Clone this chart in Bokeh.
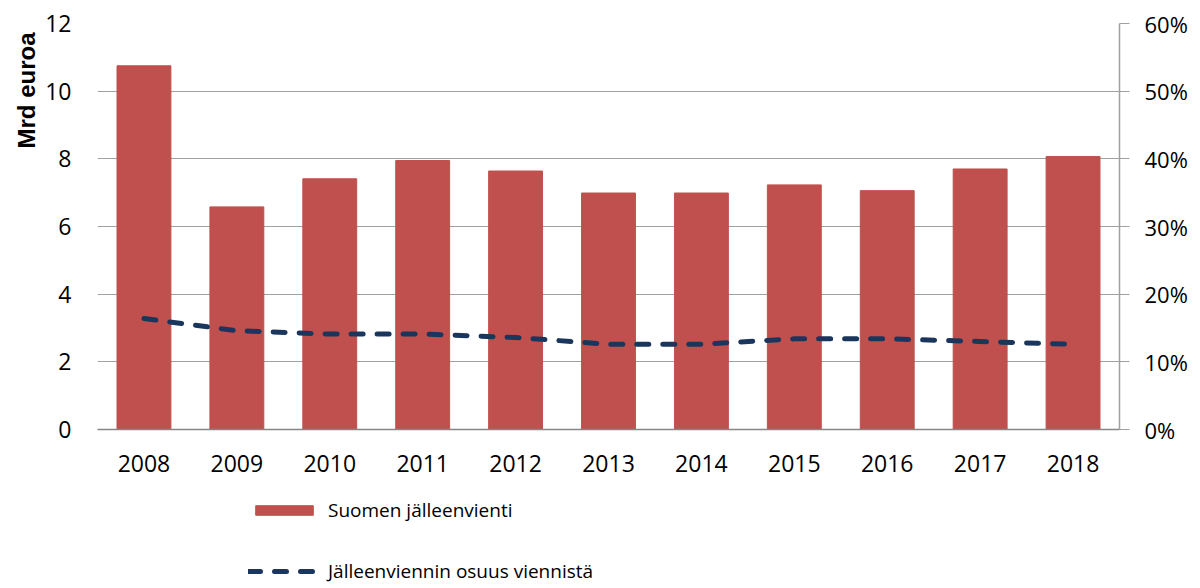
from bokeh.plotting import figure
from bokeh.layouts import column
from bokeh.models import (Range1d, LinearAxis, FixedTicker, NumeralTickFormatter,
                          Title, Legend, LegendItem, ColumnDataSource)
from bokeh.embed import file_html
from bokeh.resources import INLINE

years = ["2008", "2009", "2010", "2011", "2012", "2013", "2014", "2015", "2016", "2017", "2018"]
reexport_bn = [10.75, 6.58, 7.41, 7.95, 7.64, 6.99, 6.99, 7.23, 7.06, 7.70, 8.07]
share_of_exports = [0.164, 0.146, 0.141, 0.141, 0.136, 0.126, 0.126, 0.134, 0.134, 0.130, 0.126]
left_ticks = [0, 2, 4, 6, 8, 10, 12]
right_ticks = [0, 0.1, 0.2, 0.3, 0.4, 0.5, 0.6]
legend_labels = ["Suomen jälleenvienti", "Jälleenviennin osuus viennistä"]

xpos = [i + 0.5 for i in range(len(years))]
src = ColumnDataSource(dict(x=xpos, v=reexport_bn, s=share_of_exports))

FONT = "Open Sans"
GRID = "#A0A0A0"
BAR = "#C0504D"
LINE = "#1B365D"

p = figure(width=1198, height=484, output_backend="svg", toolbar_location=None,
           x_range=Range1d(0, len(years)), y_range=Range1d(0, 12),
           min_border_left=97, min_border_right=79, min_border_top=23, min_border_bottom=55)
p.outline_line_color = None
p.background_fill_color = "white"

p.extra_y_ranges = {"pct": Range1d(0, 0.6)}

# grid
p.xgrid.visible = False
p.ygrid.grid_line_color = GRID
p.ygrid.grid_line_width = 1.2
p.ygrid.ticker = FixedTicker(ticks=left_ticks)

# left axis
ya = p.yaxis[0]
ya.ticker = FixedTicker(ticks=left_ticks)
ya.axis_line_color = None
ya.major_tick_line_color = None
ya.major_tick_out = 0
ya.major_tick_in = 0
ya.minor_tick_line_color = None
ya.major_label_standoff = 26
ya.major_label_text_font = FONT
ya.major_label_text_font_size = "23px"
ya.major_label_text_color = "#000000"

# bottom axis
xa = p.xaxis[0]
xa.ticker = FixedTicker(ticks=xpos)
xa.major_label_overrides = {x: y for x, y in zip(xpos, years)}
xa.axis_line_color = "#868686"
xa.axis_line_width = 1.5
xa.major_tick_line_color = None
xa.major_tick_out = 0
xa.major_tick_in = 0
xa.minor_tick_line_color = None
xa.major_label_standoff = 25
xa.major_label_text_font = FONT
xa.major_label_text_font_size = "23px"
xa.major_label_text_color = "#000000"

# right axis
ra = LinearAxis(y_range_name="pct", ticker=FixedTicker(ticks=right_ticks),
                formatter=NumeralTickFormatter(format="0%"))
ra.axis_line_color = GRID
ra.axis_line_width = 1.5
ra.major_tick_line_color = GRID
ra.major_tick_line_width = 1.2
ra.major_tick_in = 0
ra.major_tick_out = 10
ra.minor_tick_line_color = None
ra.major_label_standoff = 15
ra.major_label_text_font = FONT
ra.major_label_text_font_size = "22px"
ra.major_label_text_color = "#000000"
p.add_layout(ra, "right")

p.vbar(x="x", top="v", width=0.58, bottom=0, source=src,
       fill_color=BAR, line_color=BAR)
p.line(x="x", y="s", source=src, y_range_name="pct",
       line_color=LINE, line_width=5, line_dash="12 14", line_cap="round")

ttl = Title(text="Mrd euroa", align="right", offset=9,
            text_font="Liberation Sans", text_font_style="bold",
            text_font_size="24px", text_color="#000000", standoff=6)
p.add_layout(ttl, "left")

# legend panel (renderers use the same data, but the view range keeps them off-screen)
q = figure(width=1198, height=100, output_backend="svg", toolbar_location=None,
           x_range=Range1d(100, 101), y_range=Range1d(100, 101),
           x_axis_location=None, y_axis_location=None,
           min_border_left=0, min_border_right=0, min_border_top=0, min_border_bottom=0)
q.outline_line_color = None
q.xgrid.visible = False
q.ygrid.visible = False
lb = q.vbar(x="x", top="v", width=0.58, bottom=0, source=src, fill_color=BAR, line_color=BAR)
ll = q.line(x="x", y="s", source=src, line_color=LINE, line_width=5,
            line_dash="12 14", line_cap="round")

legend = Legend(items=[LegendItem(label=legend_labels[0], renderers=[lb]),
                       LegendItem(label=legend_labels[1], renderers=[ll])],
                location=(151, 0), orientation="vertical",
                glyph_width=72, glyph_height=12, label_height=20, spacing=35,
                label_standoff=8, padding=0, margin=0,
                border_line_color=None, background_fill_alpha=0,
                label_text_font=FONT, label_text_font_size="19px", label_text_color="#000000")
q.add_layout(legend, "center")

layout = column(p, q, spacing=0)
open("out.html", "w").write(file_html(layout, INLINE))
